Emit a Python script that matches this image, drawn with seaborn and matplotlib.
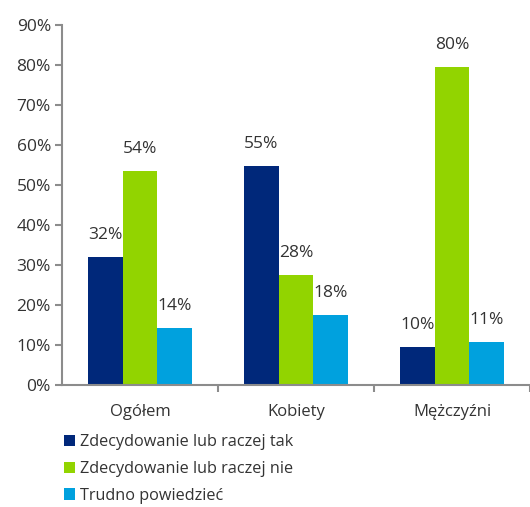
import matplotlib
matplotlib.use("Agg")
import matplotlib.pyplot as plt
import seaborn as sns
import pandas as pd
from matplotlib.ticker import FuncFormatter, FixedLocator
from matplotlib.patches import Patch

categories = ["Ogółem", "Kobiety", "Mężczyźni"]
series = ["Zdecydowanie lub raczej tak", "Zdecydowanie lub raczej nie", "Trudno powiedzieć"]
values_tak = [32.1, 54.7, 9.6]
values_nie = [53.5, 27.5, 79.6]
values_trudno = [14.2, 17.6, 10.7]
colors = ["#00287A", "#92D400", "#00A1DE"]

rows = []
for s, vals in zip(series, [values_tak, values_nie, values_trudno]):
    for c, v in zip(categories, vals):
        rows.append({"cat": c, "series": s, "val": v})
df = pd.DataFrame(rows)

sns.set_theme(style="white")
plt.rcParams["font.family"] = ["Open Sans", "DejaVu Sans"]

fig = plt.figure(figsize=(5.30, 5.07), dpi=100)
ax = fig.add_axes([0.117, 0.2406, 0.883, 0.7101])

sns.barplot(data=df, x="cat", y="val", hue="series", order=categories,
            hue_order=series, palette=colors, width=0.67, saturation=1,
            ax=ax, legend=False, linewidth=0)

for cont in ax.containers:
    labels = [f"{round(v)}%" for v in cont.datavalues]
    ax.bar_label(cont, labels=labels, padding=10, fontsize=12.5, color="#333333")

ax.set_ylim(0, 90)
ax.set_xlim(-0.5, 2.5)
ax.yaxis.set_major_locator(FixedLocator(range(0, 91, 10)))
ax.yaxis.set_major_formatter(FuncFormatter(lambda v, p: f"{int(v)}%"))
ax.set_xlabel("")
ax.set_ylabel("")

for side in ["top", "right"]:
    ax.spines[side].set_visible(False)
for side in ["left", "bottom"]:
    ax.spines[side].set_color("#8c8c8c")
    ax.spines[side].set_linewidth(1.5)

ax.tick_params(axis="y", which="major", left=True, length=5, width=1.5,
               color="#8c8c8c", labelsize=12.5, labelcolor="#333333", pad=3)
ax.tick_params(axis="x", which="major", bottom=False, labelsize=12,
               labelcolor="#333333", pad=8)
ax.set_xticks([0.5, 1.5, 2.5], minor=True)
ax.tick_params(axis="x", which="minor", bottom=True, length=5, width=1.5,
               color="#8c8c8c", direction="out")

handles = [Patch(facecolor=c, edgecolor="none") for c in colors]
fig.legend(handles, series, loc="upper left", bbox_to_anchor=(0.108, 0.156),
           frameon=False, fontsize=11.7, handlelength=0.7, handleheight=0.7,
           handletextpad=0.3, labelspacing=0.66, borderaxespad=0,
           labelcolor="#333333")

fig.savefig("out.png", dpi=100)
